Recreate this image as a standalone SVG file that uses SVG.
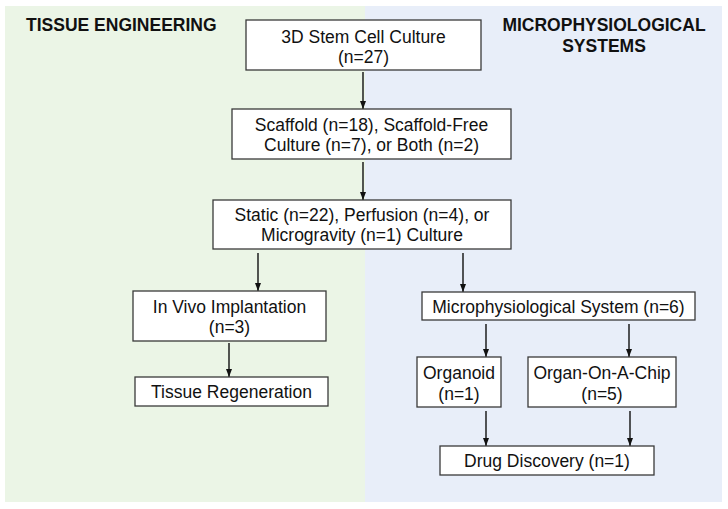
<svg xmlns="http://www.w3.org/2000/svg" width="728" height="509" viewBox="0 0 728 509">
<defs>
<style>
.box{fill:#ffffff;stroke:#3a3a3a;stroke-width:1.3}
.t{font-family:"Liberation Sans",Arial,Helvetica,sans-serif;font-size:17.5px;fill:#111;text-anchor:middle}
.h{font-family:"Liberation Sans",Arial,Helvetica,sans-serif;font-size:17.5px;font-weight:bold;fill:#111}
.c{stroke:#111;stroke-width:1.4;fill:none;marker-end:url(#ah)}
</style>
<marker id="ah" markerUnits="userSpaceOnUse" markerWidth="8" markerHeight="6" refX="10" refY="5" orient="auto" viewBox="0 0 10 10" preserveAspectRatio="none">
<path d="M0,0 L10,5 L0,10 Z" fill="#111"/>
</marker>
</defs>
<rect x="0" y="0" width="728" height="509" fill="#ffffff"/>
<g id="panel-tissue">
<rect x="5" y="6" width="360" height="496" fill="#ebf5e6"/>
<text class="h" x="26" y="31">TISSUE ENGINEERING</text>
</g>
<g id="panel-mps">
<rect x="365" y="6" width="357" height="496" fill="#e8eef9"/>
<text class="h" x="604" y="31" text-anchor="middle">MICROPHYSIOLOGICAL</text>
<text class="h" x="604" y="52" text-anchor="middle">SYSTEMS</text>
</g>
<g id="connectors">
<path class="c" d="M363,72 V109"/>
<path class="c" d="M363,162 V200"/>
<path class="c" d="M258,253 V291"/>
<path class="c" d="M463,253 V292"/>
<path class="c" d="M229,343 V377"/>
<path class="c" d="M486,324 V357"/>
<path class="c" d="M629,324 V357"/>
<path class="c" d="M486,411 V446"/>
<path class="c" d="M630,411 V446"/>
</g>
<g id="n-stem">
<rect class="box" x="246" y="20" width="235" height="50"/>
<text class="t" x="363.5" y="43">3D Stem Cell Culture</text>
<text class="t" x="363.5" y="63">(n=27)</text>
</g>
<g id="n-scaffold">
<rect class="box" x="232" y="109" width="279" height="50"/>
<text class="t" x="371.5" y="131">Scaffold (n=18), Scaffold-Free</text>
<text class="t" x="371.5" y="151">Culture (n=7), or Both (n=2)</text>
</g>
<g id="n-static">
<rect class="box" x="213" y="200" width="298" height="49"/>
<text class="t" x="362" y="221">Static (n=22), Perfusion (n=4), or</text>
<text class="t" x="362" y="241">Microgravity (n=1) Culture</text>
</g>
<g id="n-invivo">
<rect class="box" x="133" y="291" width="193" height="50"/>
<text class="t" x="229.5" y="313">In Vivo Implantation</text>
<text class="t" x="229.5" y="333">(n=3)</text>
</g>
<g id="n-regen">
<rect class="box" x="135" y="377" width="193" height="29"/>
<text class="t" x="231.5" y="398">Tissue Regeneration</text>
</g>
<g id="n-mps">
<rect class="box" x="422" y="292" width="273" height="28"/>
<text class="t" x="558.5" y="313">Microphysiological System (n=6)</text>
</g>
<g id="n-organoid">
<rect class="box" x="417" y="357" width="84" height="50"/>
<text class="t" x="459" y="379">Organoid</text>
<text class="t" x="459" y="400">(n=1)</text>
</g>
<g id="n-chip">
<rect class="box" x="528" y="357" width="148" height="50"/>
<text class="t" x="602" y="379">Organ-On-A-Chip</text>
<text class="t" x="602" y="400">(n=5)</text>
</g>
<g id="n-drug">
<rect class="box" x="440" y="446" width="214" height="29"/>
<text class="t" x="547" y="467">Drug Discovery (n=1)</text>
</g>
</svg>
